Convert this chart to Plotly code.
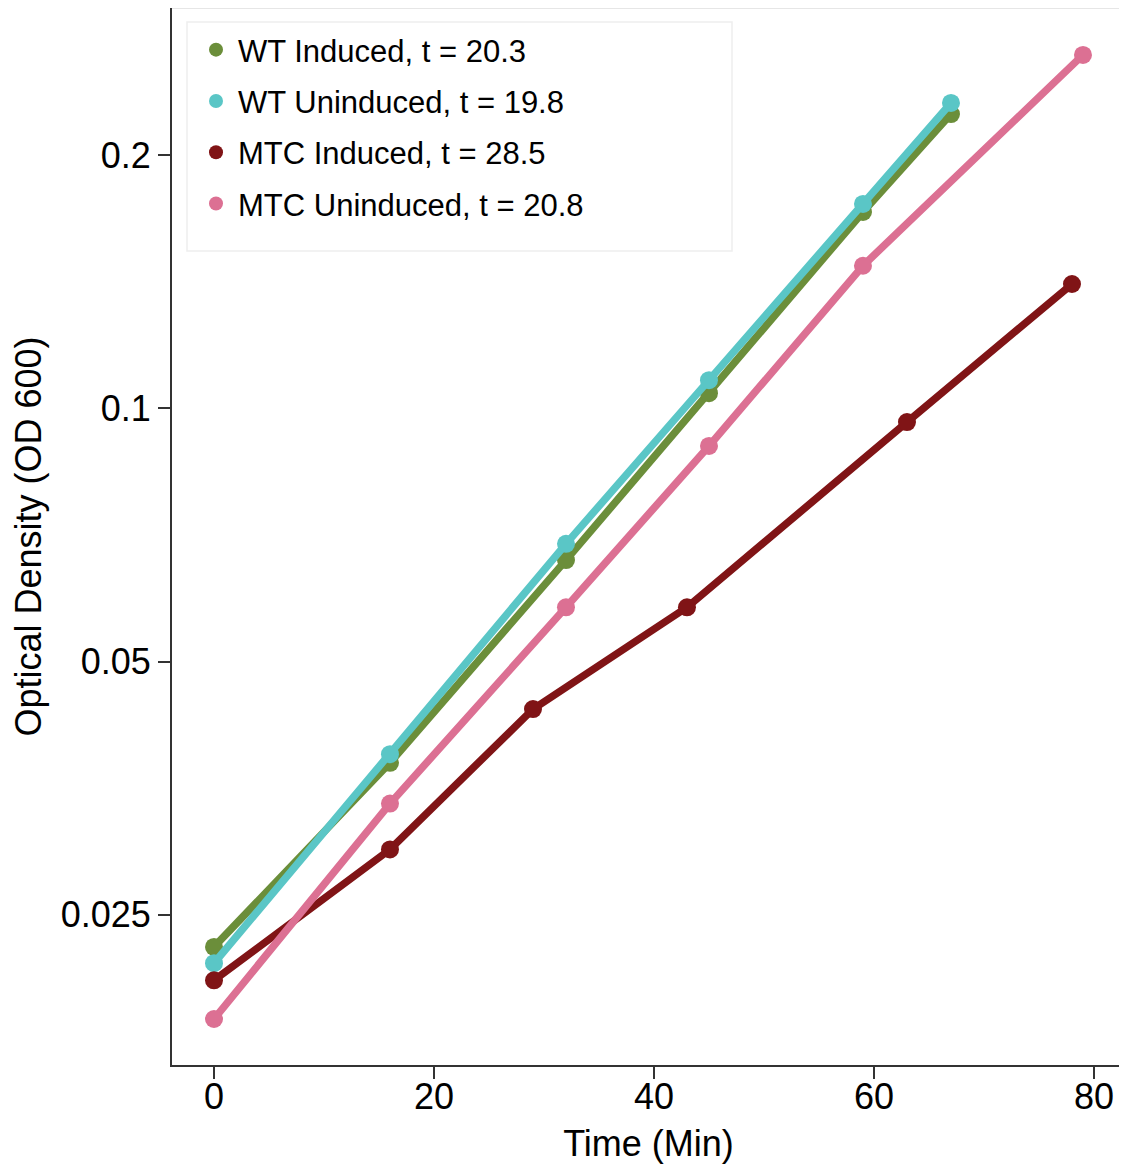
import plotly.graph_objects as go

# ---- data ----
series_names = ["WT Induced, t = 20.3", "WT Uninduced, t = 19.8",
                "MTC Induced, t = 28.5", "MTC Uninduced, t = 20.8"]
wt_ind_time = [0, 16, 32, 45, 59, 67]
wt_ind_od = [0.0229, 0.0379, 0.0660, 0.1042, 0.1711, 0.2237]
wt_unind_time = [0, 16, 32, 45, 59, 67]
wt_unind_od = [0.0219, 0.0388, 0.0690, 0.1080, 0.1749, 0.2306]
mtc_ind_time = [0, 16, 29, 43, 63, 78]
mtc_ind_od = [0.0209, 0.0299, 0.0439, 0.0580, 0.0963, 0.1405]
mtc_unind_time = [0, 16, 32, 45, 59, 79]
mtc_unind_od = [0.0188, 0.0339, 0.0580, 0.0902, 0.1477, 0.2630]
colors = ["#6b8e3a", "#5ac6c6", "#801416", "#dc7093"]

y_tickvals = [0.025, 0.05, 0.1, 0.2]
y_ticktext = ["0.025", "0.05", "0.1", "0.2"]
x_tickvals = [0, 20, 40, 60, 80]

FONT = "Liberation Sans, Arial, sans-serif"

# page geometry (page has ~8px body margin)
W, H = 1119, 1156
L, R, T, B = 164, 2, 0, 99
PW = W - L - R
PH = H - T - B

fig = go.Figure()
data = [(wt_ind_time, wt_ind_od), (wt_unind_time, wt_unind_od),
        (mtc_ind_time, mtc_ind_od), (mtc_unind_time, mtc_unind_od)]
for (t, od), c, n in zip(data, colors, series_names):
    fig.add_trace(go.Scatter(x=t, y=od, mode="lines+markers", name=n,
                             line=dict(color=c, width=7.5),
                             marker=dict(color=c, size=18),
                             showlegend=False))
# legend entries (dots only)
for i, (c, n) in enumerate(zip(colors, series_names)):
    fig.add_trace(go.Scatter(x=[None], y=[None], mode="markers", name=n,
                             marker=dict(color=c, size=14),
                             legendgroup=f"g{i}", showlegend=True))

fig.update_layout(
    width=W, height=H,
    margin=dict(l=L, r=R, t=T, b=B),
    paper_bgcolor="white", plot_bgcolor="white",
    font=dict(family=FONT, color="black"),
    legend=dict(x=22 / PW, y=1 - 15 / PH, xref="paper", yref="paper",
                xanchor="left", yanchor="top",
                bgcolor="rgba(0,0,0,0)", borderwidth=0,
                font=dict(size=31, family=FONT),
                itemsizing="trace", itemwidth=34, tracegroupgap=8),
    shapes=[
        dict(type="rect", xref="paper", yref="paper",
             x0=15 / PW, x1=560 / PW, y0=1 - 243 / PH, y1=1 - 14 / PH,
             line=dict(color="#eeeeee", width=1.5), fillcolor="rgba(0,0,0,0)",
             layer="below"),
        dict(type="line", xref="paper", yref="paper", x0=0, x1=1, y0=1, y1=1,
             line=dict(color="#e6e6e6", width=2)),
        dict(type="line", xref="paper", yref="paper", x0=1, x1=1, y0=0, y1=1,
             line=dict(color="#e6e6e6", width=2)),
    ],
)

fig.update_xaxes(
    range=[-3.818, 82.82], tickvals=x_tickvals,
    showgrid=False, zeroline=False,
    showline=True, linecolor="#333333", linewidth=2,
    ticks="outside", ticklen=12, tickcolor="#333333", tickwidth=1.5,
    tickfont=dict(size=36, family=FONT), ticklabelstandoff=-13,
    title=dict(text="Time (Min)", font=dict(size=36, family=FONT), standoff=21),
)
fig.update_yaxes(
    type="log", range=[-1.7805, -0.5243],
    tickvals=y_tickvals, ticktext=y_ticktext,
    showgrid=False, zeroline=False,
    showline=True, linecolor="#333333", linewidth=2,
    ticks="outside", ticklen=12, tickcolor="#333333", tickwidth=1.5,
    tickfont=dict(size=36, family=FONT),
    title=dict(text="Optical Density (OD 600)", font=dict(size=36, family=FONT), standoff=14),
)

fig.write_html("out.html")
